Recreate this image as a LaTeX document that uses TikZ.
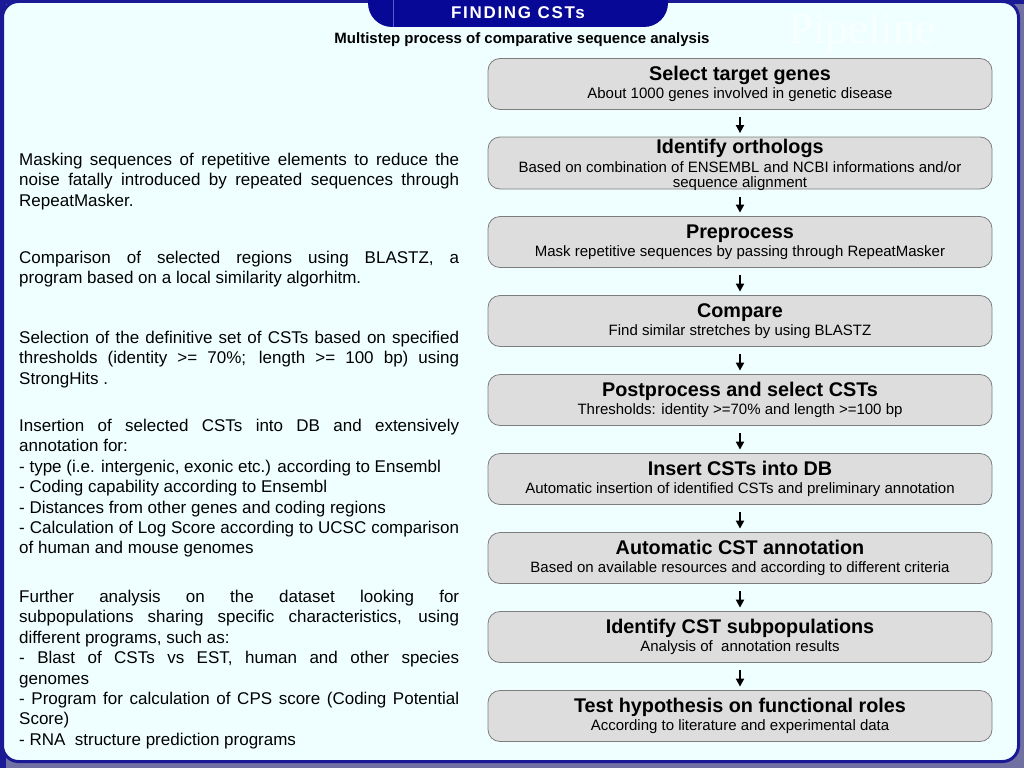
\documentclass[tikz,border=0pt]{standalone}
\usepackage{fontspec}
\setmainfont{Liberation Sans}
\newfontfamily\ghostserif{Liberation Serif}
\usetikzlibrary{arrows.meta}
\definecolor{panelbg}{RGB}{239,255,255}
\definecolor{navy}{RGB}{26,26,150}
\definecolor{tabblue}{RGB}{8,8,150}
\definecolor{shadowc}{RGB}{112,112,162}
\definecolor{boxfill}{RGB}{221,221,221}
\definecolor{boxline}{RGB}{125,125,125}
\definecolor{ghost}{RGB}{247,255,255}
\definecolor{tabline}{RGB}{90,90,200}
\newcommand\steptitle[1]{{\bfseries\fontsize{19.8}{19.8}\selectfont #1}}
\begin{document}
\begin{tikzpicture}[x=1pt,y=-1pt,
  stepbox/.style={draw=boxline, fill=boxfill, rounded corners=12pt, minimum width=504pt,
    minimum height=51pt, line width=0.8pt, align=center, inner sep=0pt,
    font=\fontsize{15}{15}\selectfont},
  flow/.style={-{Triangle[length=8pt,width=8pt]}, line width=1.8pt, shorten <=7.5pt, shorten >=3.5pt},
  para/.style={anchor=north west, inner sep=0pt, text width=440pt, align=justify,
    font=\fontsize{17}{20.4}\selectfont}]
\useasboundingbox (0,0) rectangle (1024,768);
% background and panel
\fill[shadowc] (0,0) rectangle (1024,768);
\fill[navy] (0,0) rectangle (6,768);
\fill[navy] (0,0) rectangle (1024,4);
\draw[navy, line width=3pt, fill=panelbg, rounded corners=16pt] (2.5,1.5) rectangle (1018.5,761.5);
% tab
\fill[tabblue, rounded corners=24pt] (368,-40) rectangle (668,27);
\draw[tabline, line width=0.8pt] (393,0) -- (393,27);
\node[text=white, font=\bfseries\fontsize{17}{17}\selectfont\addfontfeature{LetterSpace=10}] (title) at (518,13) {FINDING CSTs};
\node[font=\bfseries\fontsize{15}{15}\selectfont] (subtitle) at (522,40) {Multistep process of comparative sequence analysis};
\node[text=ghost, font=\ghostserif\fontsize{45}{45}\selectfont] (ghost) at (862,33) {Pipeline};
% steps
\node[stepbox] (b1) at (740,84) {\steptitle{Select target genes}\\[2.5pt] About 1000 genes involved in genetic disease};
\node[stepbox, inner ysep=-2pt, minimum height=52pt] (b2) at (740,163) {\rule{0pt}{18pt}\steptitle{Identify orthologs}\\[2.5pt] Based on combination of ENSEMBL and NCBI informations and/or\\ sequence alignment};
\node[stepbox] (b3) at (740,242) {\steptitle{Preprocess}\\[2.5pt] Mask repetitive sequences by passing through RepeatMasker};
\node[stepbox] (b4) at (740,321) {\steptitle{Compare}\\[2.5pt] Find similar stretches by using BLASTZ};
\node[stepbox] (b5) at (740,400) {\steptitle{Postprocess and select CSTs}\\[2.5pt] Thresholds: identity >=70\% and length >=100 bp};
\node[stepbox] (b6) at (740,479) {\steptitle{Insert CSTs into DB}\\[2.5pt] Automatic insertion of identified CSTs and preliminary annotation};
\node[stepbox] (b7) at (740,558) {\steptitle{Automatic CST annotation}\\[2.5pt] Based on available resources and according to different criteria};
\node[stepbox] (b8) at (740,637) {\steptitle{Identify CST subpopulations}\\[2.5pt] Analysis of\ \ annotation results};
\node[stepbox] (b9) at (740,716) {\steptitle{Test hypothesis on functional roles}\\[2.5pt] According to literature and experimental data};
\foreach \a/\b in {b1/b2,b2/b3,b3/b4,b4/b5,b5/b6,b6/b7,b7/b8,b8/b9}
  \draw[flow] (\a.south) -- (\b.north);
% left descriptions
\node[para] (p1) at (19,151) {\strut Masking sequences of repetitive elements to reduce the\linebreak noise fatally introduced by repeated sequences through\linebreak RepeatMasker.};
\node[para] (p2) at (19,249) {\strut Comparison of selected regions using BLASTZ, a\linebreak program based on a local similarity algorhitm.};
\node[para] (p3) at (19,329) {\strut Selection of the definitive set of CSTs based on specified\linebreak thresholds (identity >= 70\%; length >= 100 bp) using\linebreak StrongHits .};
\node[para] (p4) at (19,417) {\strut Insertion of selected CSTs into DB and extensively\linebreak annotation for:\\- type (i.e. intergenic, exonic etc.) according to Ensembl\\- Coding capability according to Ensembl\\- Distances from other genes and coding regions\\- Calculation of Log Score according to UCSC comparison\linebreak of human and mouse genomes};
\node[para] (p5) at (19,588) {\strut Further analysis on the dataset looking for\linebreak subpopulations sharing specific characteristics, using\linebreak different programs, such as:\\- Blast of CSTs vs EST, human and other species\linebreak genomes\\- Program for calculation of CPS score (Coding Potential\linebreak Score)\\- RNA\ \ structure prediction programs};
\end{tikzpicture}
\end{document}
